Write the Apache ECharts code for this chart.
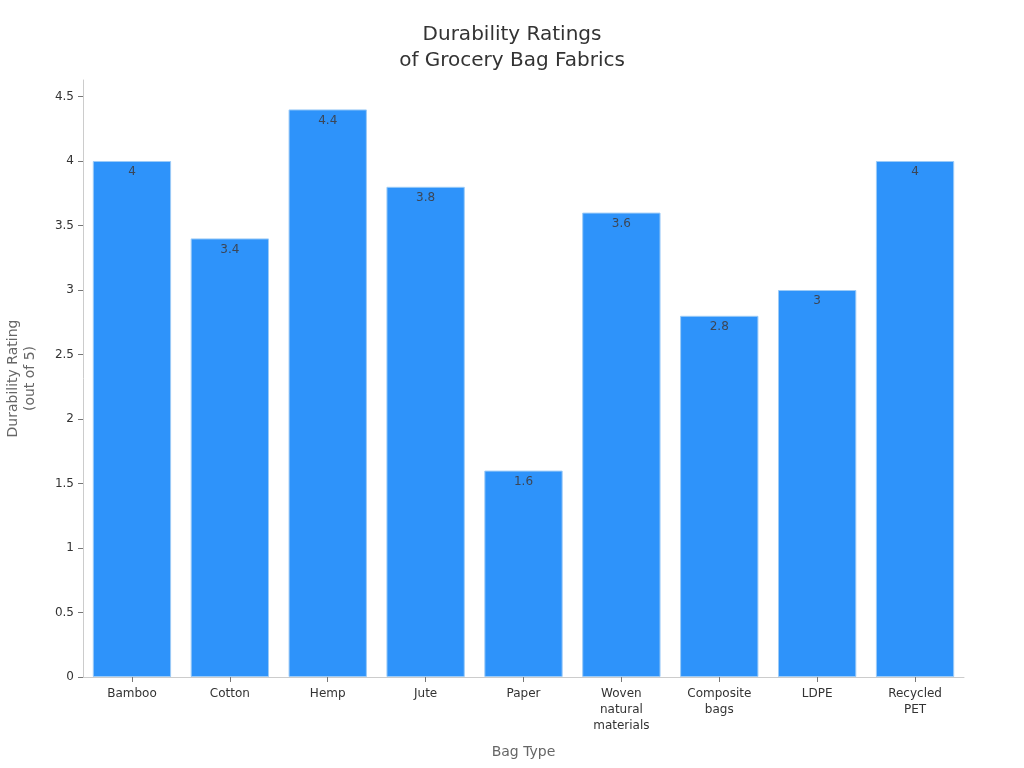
<!DOCTYPE html>
<html>
<head>
<meta charset="utf-8">
<style>
    html, body { margin: 0; padding: 0; background: #fff; }
    #chart { width: 1024px; height: 768px; }
</style>
<script src="https://cdn.jsdelivr.net/npm/echarts@6/dist/echarts.min.js"></script>
</head>
<body>
<div id="chart"></div>
<script>
const bag_types = ['Bamboo', 'Cotton', 'Hemp', 'Jute', 'Paper', 'Woven\nnatural\nmaterials', 'Composite\nbags', 'LDPE', 'Recycled\nPET'];
const ratings = [4, 3.4, 4.4, 3.8, 1.6, 3.6, 2.8, 3, 4];
const rating_ticks = [0, 0.5, 1, 1.5, 2, 2.5, 3, 3.5, 4, 4.5];

const font = 'DejaVu Sans';
const chart = echarts.init(document.getElementById('chart'), null, { renderer: 'canvas' });

chart.setOption({
    animation: false,
    textStyle: { fontFamily: font },
    title: {
        text: 'Durability Ratings\nof Grocery Bag Fabrics',
        left: 'center',
        top: 17,
        textStyle: {
            color: '#333',
            fontFamily: font,
            fontWeight: 'normal',
            fontSize: 20,
            lineHeight: 26
        }
    },
    grid: { left: 83, right: 60, top: 80, bottom: 91, containLabel: false, outerBoundsMode: 'none' },
    xAxis: {
        type: 'category',
        data: bag_types,
        name: 'Bag Type',
        nameLocation: 'middle',
        nameGap: 68,
        nameTextStyle: { color: '#666', fontSize: 14, fontFamily: font },
        axisLine: { lineStyle: { color: '#ccc', width: 1 } },
        axisTick: { show: true, alignWithLabel: true, length: 5, lineStyle: { color: '#777' } },
        axisLabel: { color: '#333', fontSize: 12, fontFamily: font, lineHeight: 16, margin: 9, interval: 0 }
    },
    yAxis: {
        type: 'value',
        min: 0,
        max: 4.628,
        name: 'Durability Rating\n(out of 5)',
        nameLocation: 'middle',
        nameGap: 44,
        nameRotate: 90,
        nameTextStyle: { color: '#666', fontSize: 14, fontFamily: font, lineHeight: 17 },
        splitLine: { show: false },
        axisLine: { show: true, lineStyle: { color: '#ccc', width: 1 } },
        axisTick: { show: true, length: 5, lineStyle: { color: '#777' }, customValues: rating_ticks },
        axisLabel: { color: '#333', fontSize: 12, fontFamily: font, margin: 9, padding: [4, 0, 0, 0], customValues: rating_ticks }
    },
    series: [
        {
            type: 'bar',
            data: ratings,
            barCategoryGap: '20%',
            itemStyle: { color: '#2E93FA', borderColor: '#9CCBF7', borderWidth: 1 },
            label: {
                show: true,
                position: 'insideTop',
                distance: 5,
                color: '#3C4656',
                fontSize: 12,
                fontFamily: font
            }
        }
    ]
});
</script>
</body>
</html>
